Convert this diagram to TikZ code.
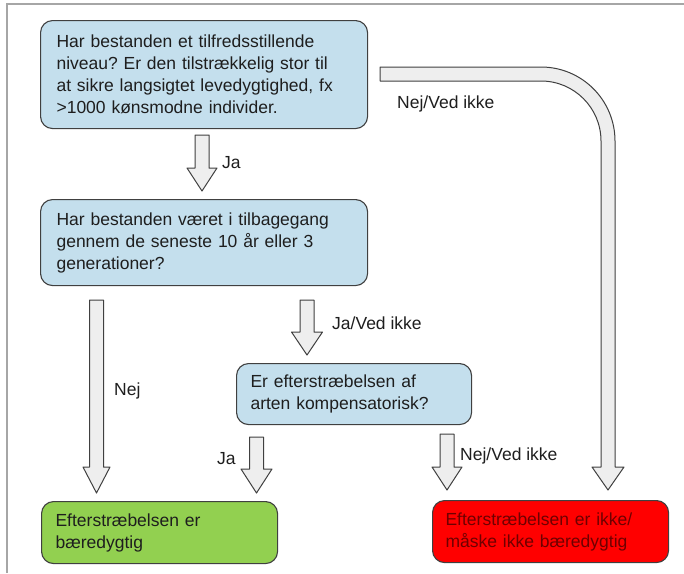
\documentclass[tikz,border=0pt]{standalone}
\usepackage{fontspec}
\setmainfont{Liberation Sans}
\frenchspacing
\definecolor{boxblue}{RGB}{196,223,237}
\definecolor{boxgreen}{RGB}{146,208,80}
\definecolor{boxred}{RGB}{255,0,0}
\definecolor{redtext}{RGB}{110,0,0}
\definecolor{boxline}{RGB}{64,64,64}
\definecolor{arrowfill}{RGB}{238,238,238}
\definecolor{txt}{RGB}{30,30,30}
\newcommand\BArrowDown[6]{%
  \draw[blockarrow] ({#1-#5},#2) -- ({#1+#5},#2) -- ({#1+#5},#3) -- ({#1+#6},#3)
    -- (#1,#4) -- ({#1-#6},#3) -- ({#1-#5},#3) -- cycle;}
\begin{document}
\begin{tikzpicture}[x=1pt,y=-1pt,
  every node/.style={font=\fontsize{17.5}{22}\selectfont\frenchspacing, text=txt},
  box/.style={draw=boxline, line width=1.1pt, rounded corners=12pt, align=left,
    anchor=north west, inner ysep=0pt},
  lbl/.style={anchor=west, inner sep=0pt},
  blockarrow/.style={draw=boxline, fill=arrowfill, line width=1pt, line join=round}]
\useasboundingbox (0,0) rectangle (684,573);
\fill[white] (0,0) rectangle (684,573);
% frame
\draw[gray!70, line width=1.2pt] (7,573) -- (7,4) -- (684,4);

% boxes
\node[box, fill=boxblue, minimum width=327pt, minimum height=108pt,
  inner xsep=16pt, text width=295pt] (q1) at (40,20)
  {Har bestanden et tilfredsstillende\\niveau? Er den tilstrækkelig stor til\\at sikre langsigtet levedygtighed, fx\\>1000 kønsmodne individer.};
\node[box, fill=boxblue, minimum width=327pt, minimum height=86pt,
  inner xsep=16pt, text width=295pt] (q2) at (40,199)
  {Har bestanden været i tilbagegang\\gennem de seneste 10 år eller 3\\generationer?};
\node[box, fill=boxblue, minimum width=235pt, minimum height=61pt,
  inner xsep=14pt, text width=207pt] (q3) at (236,363)
  {Er efterstræbelsen af\\arten kompensatorisk?};
\node[box, fill=boxgreen, minimum width=236pt, minimum height=62pt,
  inner xsep=14pt, text width=208pt] (ok) at (41,501)
  {Efterstræbelsen er\\bæredygtig};
\node[box, fill=boxred, minimum width=236pt, minimum height=62pt,
  inner xsep=13pt, text width=210pt, text=redtext] (nok) at (432,500)
  {Efterstræbelsen er ikke/\\måske ikke bæredygtig};

% block arrows
\BArrowDown{202}{135}{168}{191}{7}{15}
\BArrowDown{96.5}{300}{467}{493}{7}{13.5}
\BArrowDown{307}{300}{332}{355}{7}{15.5}
\BArrowDown{256.5}{437}{469}{493}{7}{15.5}
\BArrowDown{447}{434}{467}{490}{7}{15}
% big curved arrow
\draw[blockarrow] (380,67) -- (541,67) .. controls (581.9,67) and (615,100.1) .. (615,141)
  -- (615,467) -- (624,467) -- (608,490) -- (592,467) -- (601,467) -- (601,141)
  .. controls (601,107.9) and (574.1,81) .. (541,81) -- (380,81) -- cycle;

% labels
\node[lbl] (l1) at (222,163) {Ja};
\node[lbl] (l2) at (397,104) {Nej/Ved ikke};
\node[lbl] (l3) at (114,391) {Nej};
\node[lbl] (l4) at (332,323) {Ja/Ved ikke};
\node[lbl] (l5) at (217,459) {Ja};
\node[lbl] (l6) at (460,456) {Nej/Ved ikke};
\end{tikzpicture}
\end{document}
